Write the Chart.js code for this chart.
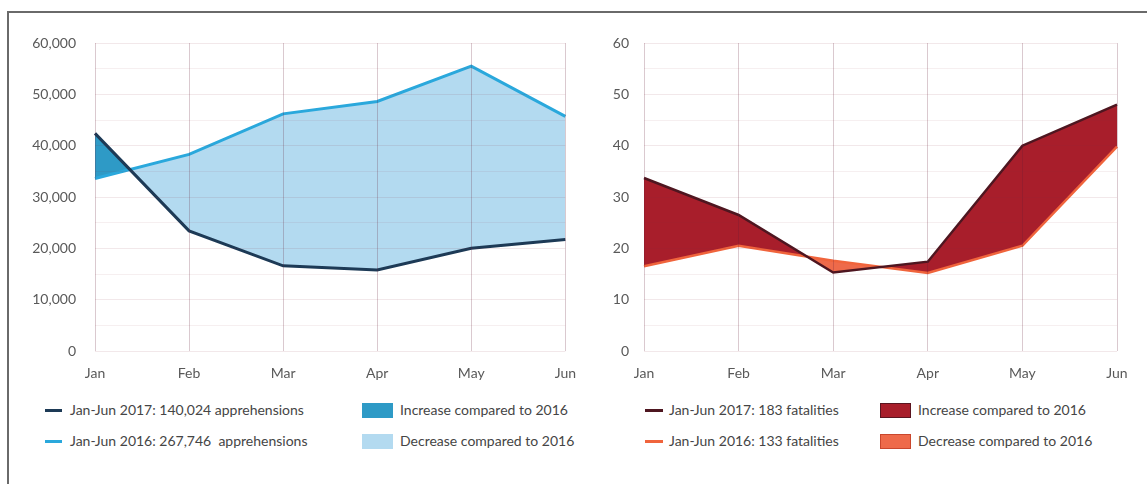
<!DOCTYPE html>
<html>
<head>
<meta charset="utf-8">
<script src="https://cdn.jsdelivr.net/npm/chart.js@4"></script>
<style>
  body { margin: 0; background: #fff; font-family: Lato, "Open Sans", sans-serif; }
  #page { position: relative; width: 1147px; height: 484px; overflow: hidden; }
  #frame { position: absolute; left: 7px; top: 11px; width: 1160px; height: 500px;
           border-top: 2px solid #6a6a6a; border-left: 2px solid #6a6a6a; }
  .box { position: absolute; top: 0; height: 400px; }
  .lg { position: absolute; font-size: 14px; color: #454545; white-space: nowrap; line-height: 16px; }
  .sw-line { position: absolute; height: 3px; }
  .sw-box { position: absolute; width: 31px; height: 15px; box-sizing: border-box; }
</style>
</head>
<body>
<div id="page">
  <div id="frame"></div>
  <div class="box" style="left:0;width:590px"><canvas id="left"></canvas></div>
  <div class="box" style="left:590px;width:557px"><canvas id="right"></canvas></div>

  <div class="sw-line" style="left:45px;top:409px;width:17px;background:#1d3a56"></div>
  <div class="lg" style="left:70px;top:402px">Jan-Jun 2017: 140,024 apprehensions</div>
  <div class="sw-line" style="left:45px;top:440px;width:17px;background:#2aa8dc"></div>
  <div class="lg" style="left:70px;top:433px">Jan-Jun 2016: 267,746&nbsp; apprehensions</div>
  <div class="sw-box" style="left:362px;top:403px;background:#2e9ac6"></div>
  <div class="lg" style="left:400px;top:402px">Increase compared to 2016</div>
  <div class="sw-box" style="left:362px;top:434px;background:#b3daf0"></div>
  <div class="lg" style="left:400px;top:433px">Decrease compared to 2016</div>

  <div class="sw-line" style="left:645px;top:409px;width:18px;background:#4e1620"></div>
  <div class="lg" style="left:669px;top:402px">Jan-Jun 2017: 183 fatalities</div>
  <div class="sw-line" style="left:645px;top:440px;width:18px;background:#f0643c"></div>
  <div class="lg" style="left:669px;top:433px">Jan-Jun 2016: 133 fatalities</div>
  <div class="sw-box" style="left:880px;top:403px;background:#a81e2b;border:1.5px solid #5a1520"></div>
  <div class="lg" style="left:918px;top:402px">Increase compared to 2016</div>
  <div class="sw-box" style="left:880px;top:434px;background:#ee6a4a;border:1.5px solid #c9472d"></div>
  <div class="lg" style="left:918px;top:433px">Decrease compared to 2016</div>
</div>
<script>
const months = ['Jan', 'Feb', 'Mar', 'Apr', 'May', 'Jun'];

// apprehensions
const appr2017 = [42400, 23400, 16600, 15800, 20000, 21700];
const appr2016 = [33600, 38300, 46200, 48600, 55500, 45700];

// fatalities
const fatal2017 = [33.7, 26.5, 15.3, 17.4, 40, 48];
const fatal2016 = [16.5, 20.5, 17.6, 15.2, 20.5, 39.8];

const tickFont = { family: 'Lato, "Open Sans", sans-serif', size: 14 };

function makeChart(id, cur, prev, opt) {
  const canvas = document.getElementById(id);
  return new Chart(canvas, {
    type: 'line',
    data: {
      labels: months,
      datasets: [
        {
          data: cur,
          borderColor: opt.curColor,
          borderWidth: opt.curWidth,
          pointRadius: 0,
          tension: 0,
          clip: 6,
          fill: { target: 1, above: opt.incColor, below: opt.decColor }
        },
        {
          data: prev,
          borderColor: opt.prevColor,
          borderWidth: opt.prevWidth,
          pointRadius: 0,
          tension: 0,
          clip: 6,
          fill: false
        }
      ]
    },
    options: {
      responsive: true,
      maintainAspectRatio: false,
      animation: false,
      events: [],
      layout: { padding: opt.padding },
      plugins: {
        legend: { display: false },
        tooltip: { enabled: false },
        filler: { drawTime: 'beforeDatasetsDraw' }
      },
      scales: {
        x: {
          afterFit: s => { s.height = 40; },
          border: { display: false },
          grid: { z: 1, color: 'rgba(100,30,55,0.24)', drawTicks: false },
          ticks: { color: '#595959', font: tickFont, padding: 14, maxRotation: 0 }
        },
        y: {
          min: 0,
          max: opt.max,
          afterFit: s => { s.width = opt.yWidth; },
          border: { display: false },
          grid: {
            z: 1,
            drawTicks: false,
            color: c => (c.tick && c.tick.value % opt.major === 0) ? 'rgba(140,50,60,0.11)' : 'rgba(140,50,60,0.08)'
          },
          ticks: {
            stepSize: opt.major / 4,
            maxTicksLimit: 100,
            color: '#595959',
            font: tickFont,
            padding: opt.tickPad,
            callback: v => v % opt.major === 0 ? v.toLocaleString('en-US') : ''
          }
        }
      }
    }
  });
}

makeChart('left', appr2017, appr2016, {
  curColor: '#1d3a56', prevColor: '#2aa8dc', curWidth: 3, prevWidth: 3,
  incColor: '#2e9ac6', decColor: '#b3daf0',
  max: 60000, major: 10000, yWidth: 80, tickPad: 19,
  padding: { left: 15, right: 23, top: 43, bottom: 9 }
});

makeChart('right', fatal2017, fatal2016, {
  curColor: '#4e1620', prevColor: '#f0643c', curWidth: 2.5, prevWidth: 2.5,
  incColor: '#a81e2b', decColor: '#ee6a4a',
  max: 60, major: 10, yWidth: 40, tickPad: 15,
  padding: { left: 14, right: 30, top: 43, bottom: 9 }
});
</script>
</body>
</html>
